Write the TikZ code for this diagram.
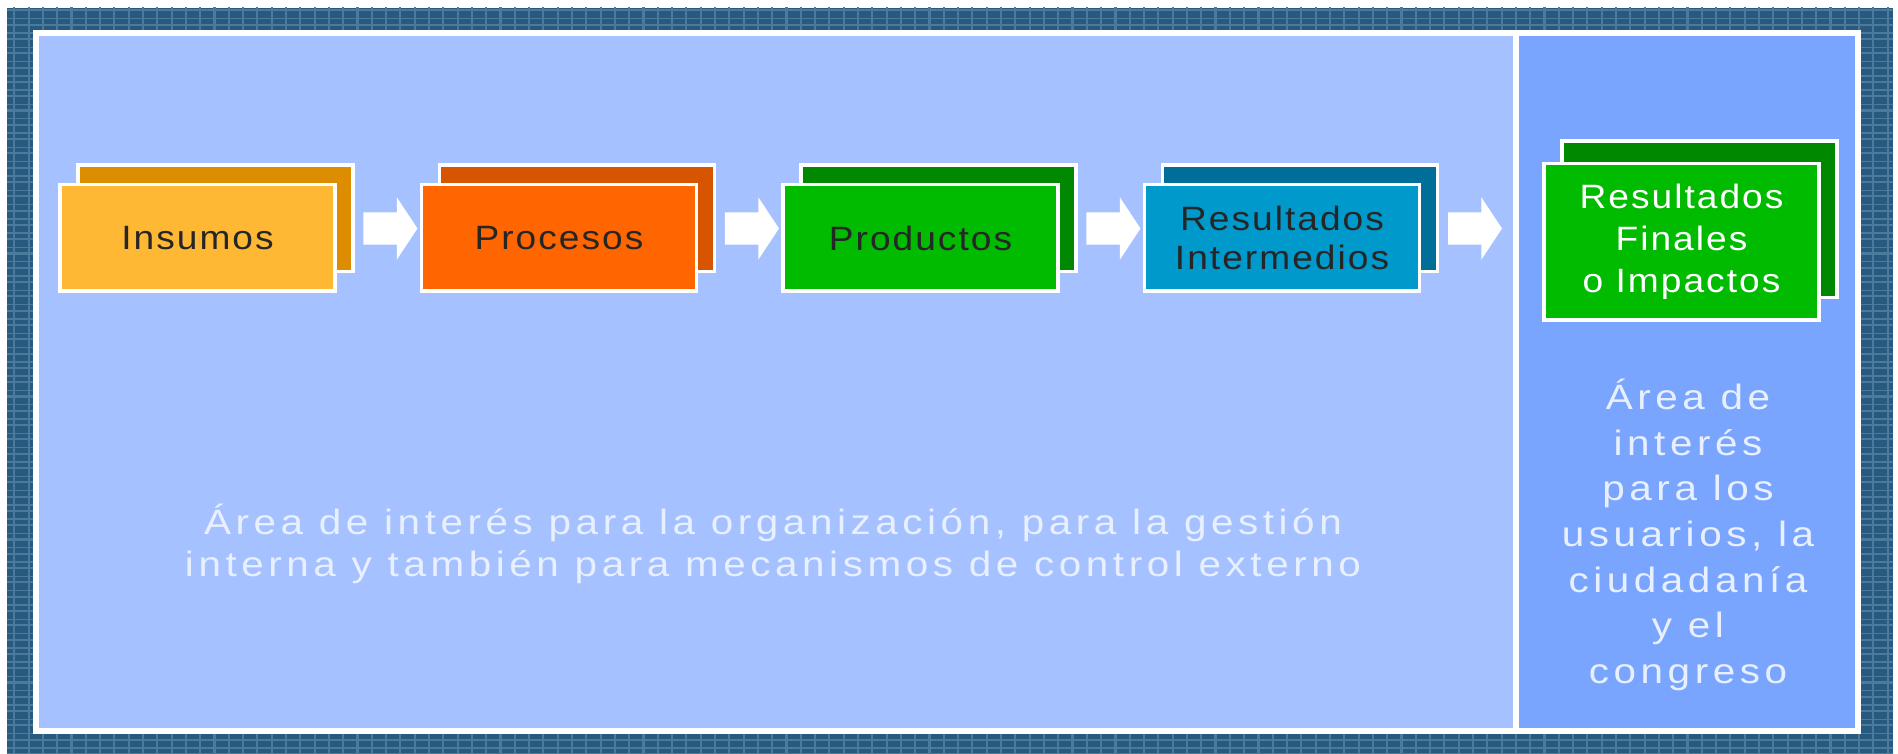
\documentclass[tikz,border=0pt]{standalone}
\usepackage{fontspec}
\setmainfont{Liberation Sans}
\newfontfamily\cardfont[FakeStretch=1.1,LetterSpace=6]{Liberation Sans}
\newfontfamily\notefont[FakeStretch=1.15,LetterSpace=13]{Liberation Sans}
\usetikzlibrary{positioning,shapes.arrows}

\definecolor{frame}{HTML}{285A7F}
\definecolor{frameline}{HTML}{4A7B9D}
\definecolor{leftpanel}{HTML}{A5C1FF}
\definecolor{rightpanel}{HTML}{7AA5FF}
\definecolor{insfront}{HTML}{FFB833}
\definecolor{insback}{HTML}{DD8E00}
\definecolor{profront}{HTML}{FF6600}
\definecolor{proback}{HTML}{D75500}
\definecolor{grnfront}{HTML}{00BB00}
\definecolor{grnback}{HTML}{008800}
\definecolor{intfront}{HTML}{0099CC}
\definecolor{intback}{HTML}{006E99}
\definecolor{notetext}{HTML}{E8EFFF}

\tikzset{
  card/.style={draw=white,line width=1pt,minimum width=2.75cm,minimum height=1.065cm,
    inner sep=0pt,align=center,text=black!85,
    font=\cardfont\fontsize{9.6}{11}\selectfont},
  blockarrow/.style={single arrow,fill=white,draw=none,inner xsep=0pt,inner ysep=0.155cm,
    minimum height=0.54cm,single arrow head extend=0.15cm,single arrow tip angle=113},
  note/.style={text=notetext,align=center,
    font=\notefont\fontsize{10}{11.9}\selectfont}
}

\begin{document}
\begin{tikzpicture}
  \useasboundingbox (0,0) rectangle (18.98,7.54);
  % marco
  \fill[frame] (0.07,0) rectangle (18.93,7.46);
  \begin{scope}
    \clip (0.07,0) rectangle (18.93,7.46);
    \draw[frameline,line width=0.6pt,xstep=0.143,ystep=0.143] (0,0) grid (19,7.5);
    \draw[frameline,line width=0.4pt,xstep=20,ystep=0.143,yshift=0.06cm] (0,0) grid (19,7.5);
  \end{scope}
  \draw[white,line width=1.5pt,fill=leftpanel] (0.36,0.23) rectangle (15.16,7.21);
  \draw[white,line width=1.5pt,fill=rightpanel] (15.16,0.23) rectangle (18.58,7.21);

  % tarjetas
  \node[card,fill=insback] (insb) at (2.155,5.355) {};
  \node[card,fill=proback,right=0.83cm of insb] (prob) {};
  \node[card,fill=grnback,right=0.83cm of prob] (prodb) {};
  \node[card,fill=intback,right=0.83cm of prodb] (intb) {};
  \node[card,fill=grnback,minimum height=1.565cm] (finb) at (16.995,5.345) {};

  \node[card,fill=insfront] (ins) at ([shift={(-0.18,-0.195)}]insb) {Insumos};
  \node[card,fill=profront] (pro) at ([shift={(-0.18,-0.195)}]prob) {Procesos};
  \node[card,fill=grnfront] (prod) at ([shift={(-0.18,-0.195)}]prodb) {Productos};
  \node[card,fill=intfront] (int) at ([shift={(-0.18,-0.195)}]intb) {Resultados\\Intermedios};
  \node[card,fill=grnfront,minimum height=1.565cm,text=white,
    font=\cardfont\fontsize{9.6}{11.9}\selectfont] (fin)
    at ([shift={(-0.18,-0.225)}]finb) {Resultados\\Finales\\o Impactos};

  % flechas
  \node[blockarrow,anchor=west] (a1) at ([shift={(0.08,-0.10)}]insb.east) {};
  \node[blockarrow,anchor=west] (a2) at ([shift={(0.08,-0.10)}]prob.east) {};
  \node[blockarrow,anchor=west] (a3) at ([shift={(0.08,-0.10)}]prodb.east) {};
  \node[blockarrow,anchor=west] (a4) at ([shift={(0.08,-0.10)}]intb.east) {};

  % textos
  \node[note] (orgnote) at (7.73,2.10)
    {Área de interés para la organización, para la gestión\\interna y también para mecanismos de control externo};
  \node[note,font=\notefont\fontsize{10}{13}\selectfont] (usrnote) at (16.88,2.19)
    {Área de\\interés\\para los\\usuarios, la\\ciudadanía\\y el\\congreso};
\end{tikzpicture}
\end{document}
